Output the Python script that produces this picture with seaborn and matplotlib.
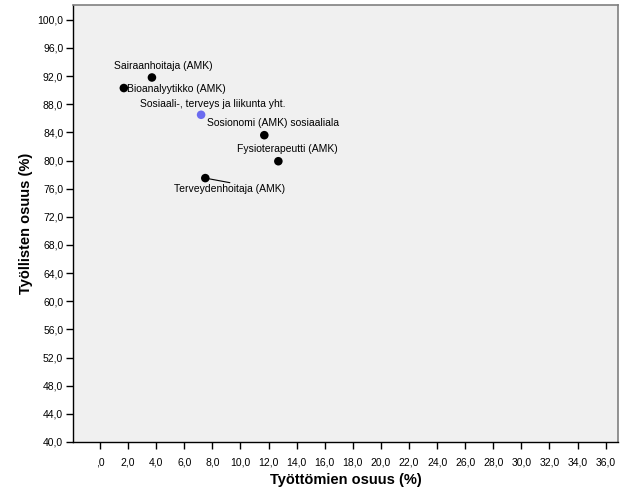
import matplotlib
matplotlib.use("Agg")
import matplotlib.pyplot as plt
import seaborn as sns
import pandas as pd
import numpy as np

labels = ["Sairaanhoitaja (AMK)", "Bioanalyytikko (AMK)",
          "Sosiaali-, terveys ja liikunta yht.", "Sosionomi (AMK) sosiaaliala",
          "Fysioterapeutti (AMK)", "Terveydenhoitaja (AMK)"]
unemployed = [3.7, 1.7, 7.2, 11.7, 12.7, 7.5]
employed = [91.8, 90.3, 86.5, 83.6, 79.9, 77.5]
group = ["AMK", "AMK", "Yht", "AMK", "AMK", "AMK"]

df = pd.DataFrame({"x": unemployed, "y": employed, "label": labels, "group": group})

sns.set_style("white")
plt.rcParams["font.family"] = ["Liberation Sans", "DejaVu Sans"]
plt.rcParams["text.color"] = "black"
plt.rcParams["axes.labelcolor"] = "black"
plt.rcParams["xtick.color"] = "black"
plt.rcParams["ytick.color"] = "black"

fig = plt.figure(figsize=(6.26, 5.01), dpi=100)
ax = fig.add_axes([0.1166, 0.1178, 0.987 - 0.1166, 0.990 - 0.1178])
ax.set_facecolor("#F0F0F0")

sns.scatterplot(data=df, x="x", y="y", hue="group",
                palette={"AMK": "black", "Yht": "#6b6bf0"},
                s=38, edgecolor="none", legend=False, ax=ax, zorder=3)

ax.set_xlim(-1.92, 36.87)
ax.set_ylim(40, 102.1)

yt = np.arange(40, 101, 4)
ax.set_yticks(yt)
ax.set_yticklabels([f"{v:.1f}".replace(".", ",") for v in yt], fontsize=7.5)
xt = np.arange(0, 37, 2)
ax.set_xticks(xt)
ax.set_xticklabels([",0" if v == 0 else f"{v:.1f}".replace(".", ",") for v in xt], fontsize=7.5)
ax.tick_params(axis="both", direction="out", length=5, width=1, color="black",
               labelcolor="black", left=True, bottom=True)
ax.tick_params(axis="y", pad=2)
ax.tick_params(axis="x", pad=6)

for side in ["left", "bottom"]:
    ax.spines[side].set_color("black")
    ax.spines[side].set_linewidth(1)
for side in ["top", "right"]:
    ax.spines[side].set_color("#808080")
    ax.spines[side].set_linewidth(1.2)

ax.set_xlabel("Työttömien osuus (%)", fontsize=10.5, fontweight="bold", labelpad=4)
ax.set_ylabel("Työllisten osuus (%)", fontsize=10.5, fontweight="bold", labelpad=3)

# label anchor positions in data units
tx = [4.48, 1.9, 8.04, 7.64, 9.77, 9.2]
ty = [93.5, 90.2, 88.1, 85.3, 81.6, 76.0]
has = ["center", "left", "center", "left", "left", "center"]
for i, lab in enumerate(labels):
    ax.text(tx[i], ty[i], lab, fontsize=7.5, ha=has[i], va="center", zorder=4)

# leader line for Terveydenhoitaja
ax.plot([unemployed[5], 9.25], [employed[5], 76.85], color="black", lw=0.8, zorder=2)

fig.savefig("out.png", dpi=100)
